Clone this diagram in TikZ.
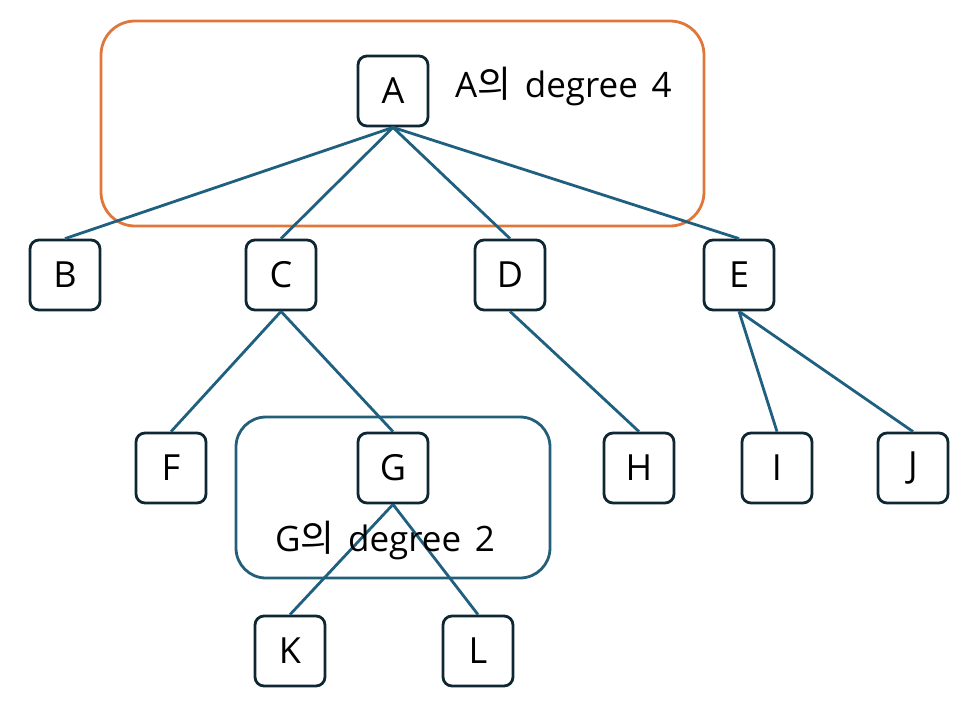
\documentclass[tikz,border=0pt]{standalone}
\usepackage{fontspec}
\setmainfont{Open Sans}[WordSpace=1.5]
\newfontfamily\kr{Noto Sans CJK KR}[Scale=1.05]
\definecolor{nodeline}{HTML}{0E2733}
\definecolor{edgecol}{HTML}{1F5F7F}
\definecolor{orangebox}{HTML}{E0763A}
\definecolor{tealbox}{HTML}{235F78}
\begin{document}
\begin{tikzpicture}[x=1pt,y=-1pt,
  tnode/.style={draw=nodeline,line width=2.8pt,rounded corners=9pt,minimum width=70pt,minimum height=70pt,inner sep=0pt,fill=white,font=\fontsize{36}{39}\selectfont},
  edge/.style={draw=edgecol,line width=2.8pt},
  lbl/.style={font=\fontsize{35}{38}\selectfont,inner sep=0pt,anchor=west}]
\useasboundingbox (0,0) rectangle (968,705);
\draw[orangebox,line width=2.8pt,rounded corners=34pt] (101,21) rectangle (704,226);
\draw[tealbox,line width=2.8pt,rounded corners=30pt] (236,417) rectangle (550,578);
\node[tnode] (A) at (393,91) {A};
\node[tnode] (B) at (65,275) {B};
\node[tnode] (C) at (281,275) {C};
\node[tnode] (D) at (510,275) {D};
\node[tnode] (E) at (739,275) {E};
\node[tnode] (F) at (171,468) {F};
\node[tnode] (G) at (393,468) {G};
\node[tnode] (H) at (639,468) {H};
\node[tnode] (I) at (777,468) {I};
\node[tnode] (J) at (913,468) {J};
\node[tnode] (K) at (290,651) {K};
\node[tnode] (L) at (478,651) {L};
\foreach \p/\c in {A/B,A/C,A/D,A/E,C/F,C/G,D/H,E/I,E/J,G/K,G/L}
  \draw[edge] (\p.south) -- (\c.north);
\node[lbl] (la) at (455,87) {A{\kr 의} degree 4};
\node[lbl] (lg) at (275,540) {G{\kr 의} degree 2};
\end{tikzpicture}
\end{document}
